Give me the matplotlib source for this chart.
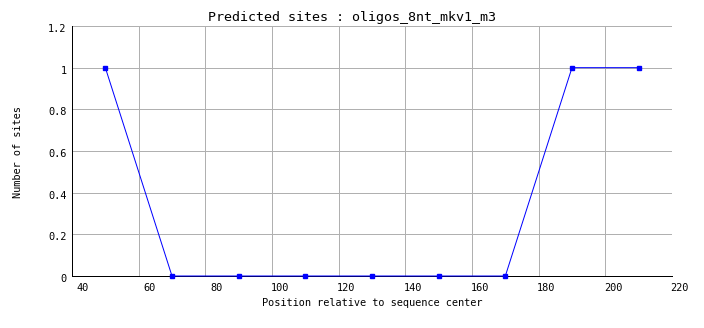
import matplotlib
matplotlib.use('Agg')
import matplotlib.pyplot as plt
import matplotlib.transforms as mtransforms

# data
positions = [50, 70, 90, 110, 130, 150, 170, 190, 210]
sites = [1, 0, 0, 0, 0, 0, 0, 1, 1]
xticks = [40, 60, 80, 100, 120, 140, 160, 180, 200, 220]
yticks = [0, 0.2, 0.4, 0.6, 0.8, 1, 1.2]
ytick_labels = ['0', '0.2', '0.4', '0.6', '0.8', '1', '1.2']

plt.rcParams['font.family'] = 'DejaVu Sans Mono'

W, H = 704, 328
px = 0.72  # one pixel in points at 100 dpi
fig = plt.figure(figsize=(W / 100, H / 100), dpi=100)
ax = fig.add_axes([72 / W, (H - 276) / H, 600 / W, 250 / H])

ax.plot(positions, sites, color='#0000ff', lw=px, marker='s', ms=2.4,
        mec='#0000ff', mfc='#0000ff', clip_on=False, zorder=3)

ax.set_xlim(40, 220)
ax.set_ylim(0, 1.2)
ax.set_xticks(xticks)
ax.set_yticks(yticks)
ax.set_yticklabels(ytick_labels)
ax.grid(True, color='#b0b0b0', lw=px)
ax.set_axisbelow(True)

for side in ['top', 'right']:
    ax.spines[side].set_visible(False)
for side in ['left', 'bottom']:
    ax.spines[side].set_color('black')
    ax.spines[side].set_linewidth(px)
    ax.spines[side].set_zorder(2.5)

ax.tick_params(length=0, labelsize=7.4, colors='black')
ax.tick_params(axis='x', pad=5)
ax.tick_params(axis='y', pad=4)

# x labels sit right of the grid lines, like the original renderer
shift = mtransforms.ScaledTranslation(17 / 100, 0, fig.dpi_scale_trans)
for lab in ax.get_xticklabels():
    lab.set_horizontalalignment('right')
    lab.set_transform(lab.get_transform() + shift)
down = mtransforms.ScaledTranslation(0, -2 / 100, fig.dpi_scale_trans)
for lab in ax.get_yticklabels():
    lab.set_transform(lab.get_transform() + down)

fig.text(352 / W, 1 - 18 / H, 'Predicted sites : oligos_8nt_mkv1_m3',
         ha='center', va='center', fontsize=9.6)
fig.text(372 / W, 1 - 303 / H, 'Position relative to sequence center',
         ha='center', va='center', fontsize=7.4)
fig.text(18 / W, 1 - 152 / H, 'Number of sites', rotation=90,
         ha='center', va='center', fontsize=7.4)

fig.savefig('out.png', dpi=100)
